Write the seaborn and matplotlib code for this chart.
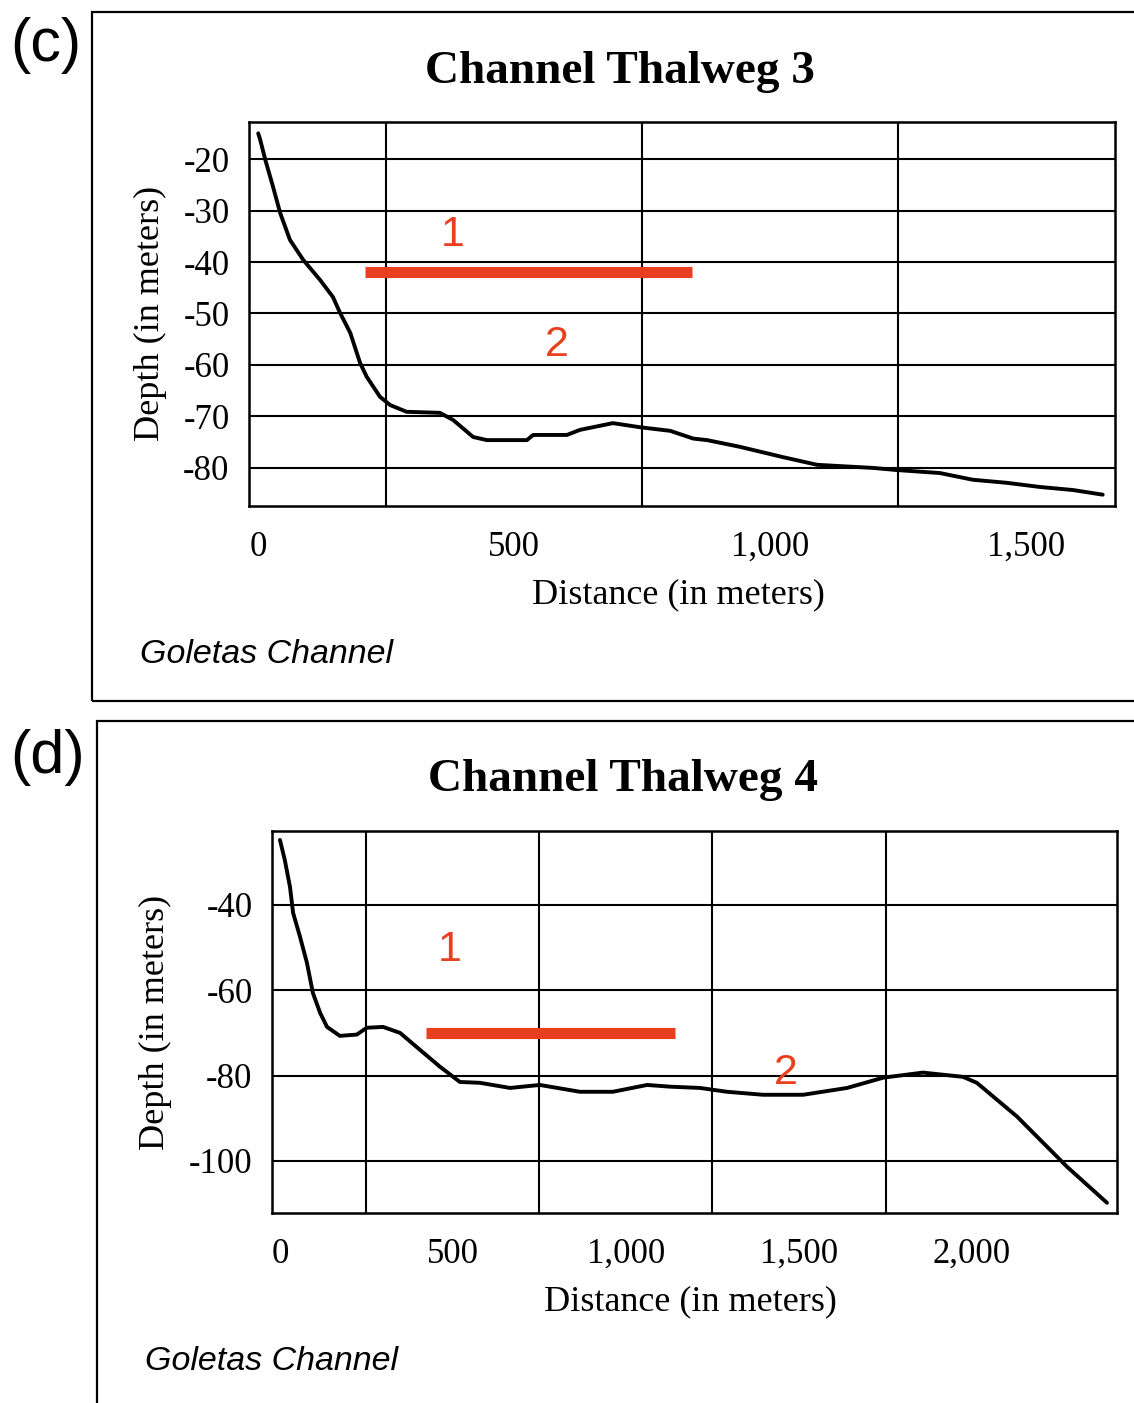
import matplotlib
matplotlib.use("Agg")
import matplotlib.pyplot as plt
from matplotlib.patches import Rectangle
import seaborn as sns

# Channel Thalweg 3 profile
c_dist = [0, 4, 14, 29, 43, 62, 88, 121, 146, 160, 180, 199, 212, 238, 258, 290,
          355, 381, 420, 447, 525, 537, 603, 629, 693, 746, 805, 850, 877, 941,
          1025, 1092, 1201, 1246, 1332, 1396, 1463, 1527, 1592, 1650]
c_depth = [-15, -16.3, -20.2, -25.4, -30.5, -35.7, -39.6, -43.5, -46.8, -49.9,
           -53.8, -59.6, -62.3, -66.2, -67.8, -69.1, -69.3, -70.7, -74.0, -74.6,
           -74.6, -73.6, -73.6, -72.6, -71.3, -72.1, -72.8, -74.3, -74.6, -75.9,
           -77.9, -79.4, -80.0, -80.4, -81.0, -82.3, -82.9, -83.7, -84.3, -85.2]

# Channel Thalweg 4 profile
d_dist = [0, 14, 29, 38, 58, 78, 95, 116, 136, 173, 222, 251, 298, 347, 405, 462,
          520, 578, 665, 751, 867, 962, 1061, 1127, 1214, 1292, 1396, 1512, 1639,
          1743, 1858, 1974, 2014, 2130, 2275, 2390]
d_depth = [-24.8, -29.5, -35.8, -41.9, -47.5, -53.6, -60.6, -65.3, -68.6, -70.7,
           -70.4, -68.8, -68.6, -70.0, -74.0, -77.9, -81.5, -81.7, -82.9, -82.2,
           -83.8, -83.8, -82.2, -82.6, -82.9, -83.8, -84.5, -84.5, -82.9, -80.5,
           -79.3, -80.3, -81.7, -89.6, -101.4, -109.8]

# red zone divider (x start, x end, depth) and zone label positions
c_bar = [209, 848, -41.9]
d_bar = [422, 1142, -70.0]
c_zone_x = [379, 584]
c_zone_y = [-34.8, -56.1]
d_zone_x = [491, 1462]
d_zone_y = [-50.5, -79.3]

c_xticks = [0, 500, 1000, 1500]
c_xgrid = [250, 750, 1250]
c_yticks = [-20, -30, -40, -50, -60, -70, -80]
d_xticks = [0, 500, 1000, 1500, 2000]
d_xgrid = [250, 750, 1250, 1750]
d_yticks = [-40, -60, -80, -100]

sns.set_style("white")
plt.rcParams['font.family'] = ['Liberation Serif', 'DejaVu Serif']
plt.rcParams['text.color'] = 'black'
plt.rcParams['xtick.color'] = 'black'
plt.rcParams['ytick.color'] = 'black'
plt.rcParams['axes.labelcolor'] = 'black'

W, H = 1134, 1403
fig = plt.figure(figsize=(W / 100, H / 100), dpi=100)


def fx(px):
    return px / W


def fy(py):
    return 1 - py / H


RED = '#e8401e'


def draw_panel(rect, dist, depth, xlim, ylim, xticks, xgrid, yticks,
               bar, zx, zy):
    ax = fig.add_axes(rect)
    sns.lineplot(x=dist, y=depth, ax=ax, color='black', lw=2.8)
    ax.set_xlim(*xlim)
    ax.set_ylim(*ylim)
    ax.set_xticks(xticks)
    ax.set_xticklabels([f"{t:,}" for t in xticks])
    ax.set_xticks(xgrid, minor=True)
    ax.set_yticks(yticks)
    ax.set_yticklabels([str(t) for t in yticks])
    ax.tick_params(axis='both', which='major', direction='out', length=9,
                   width=1.5, color='black', labelcolor='black',
                   labelsize=25, pad=5)
    ax.tick_params(axis='x', which='minor', length=0)
    ax.tick_params(axis='x', which='major', pad=9)
    ax.grid(False)
    ax.xaxis.grid(True, which='minor', color='black', lw=1.5)
    ax.yaxis.grid(True, which='major', color='black', lw=1.5)
    for s in ax.spines.values():
        s.set_color('black')
        s.set_linewidth(1.8)
    ax.hlines(bar[2], bar[0], bar[1], color=RED, lw=8, zorder=3)
    for lab, x, y in zip(['1', '2'], zx, zy):
        ax.text(x, y, lab, color=RED, fontsize=31, family='Liberation Sans',
                ha='center', va='center', zorder=4)
    return ax


ax_c = draw_panel([fx(249), fy(506), fx(1115 - 249), (506 - 122) / H],
                  c_dist, c_depth, (-18, 1674), (-87.4, -12.8),
                  c_xticks, c_xgrid, c_yticks, c_bar, c_zone_x, c_zone_y)
ax_d = draw_panel([fx(272), fy(1213), fx(1117 - 272), (1213 - 831) / H],
                  d_dist, d_depth, (-23, 2419), (-112.2, -22.7),
                  d_xticks, d_xgrid, d_yticks, d_bar, d_zone_x, d_zone_y)

# panel frames
fig.add_artist(Rectangle((fx(92), fy(701)), 1.0, fy(12) - fy(701),
                         transform=fig.transFigure, fill=False,
                         ec='black', lw=1.6))
fig.add_artist(Rectangle((fx(97), -0.05), 1.0, fy(721) + 0.05,
                         transform=fig.transFigure, fill=False,
                         ec='black', lw=1.6))

# titles and labels
fig.text(fx(620), fy(72), "Channel Thalweg 3", fontsize=34, weight='bold',
         ha='center', va='center')
fig.text(fx(623), fy(780), "Channel Thalweg 4", fontsize=34, weight='bold',
         ha='center', va='center')
fig.text(fx(678), fy(595), "Distance (in meters)", fontsize=26,
         ha='center', va='center')
fig.text(fx(690), fy(1302), "Distance (in meters)", fontsize=26,
         ha='center', va='center')
fig.text(fx(150), fy(313), "Depth (in meters)", fontsize=26, rotation=90,
         ha='center', va='center')
fig.text(fx(155), fy(1022), "Depth (in meters)", fontsize=26, rotation=90,
         ha='center', va='center')
fig.text(fx(140), fy(655), "Goletas Channel", fontsize=24.5, style='italic',
         family='Liberation Sans', ha='left', va='center')
fig.text(fx(145), fy(1362), "Goletas Channel", fontsize=24.5, style='italic',
         family='Liberation Sans', ha='left', va='center')
fig.text(fx(10), fy(45), "(c)", fontsize=44, family='Liberation Sans',
         ha='left', va='center')
fig.text(fx(10), fy(757), "(d)", fontsize=44, family='Liberation Sans',
         ha='left', va='center')

fig.savefig("out.png", dpi=100)
